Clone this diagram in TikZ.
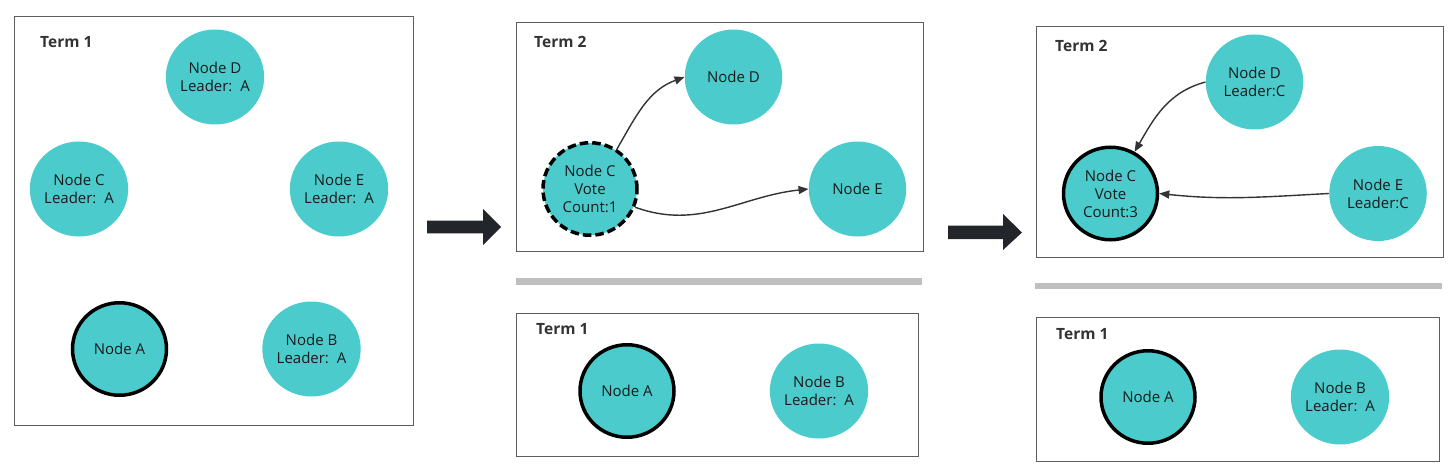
\documentclass[tikz,border=0pt]{standalone}
\usepackage{fontspec}
\setmainfont{Open Sans}
\usetikzlibrary{arrows.meta,shapes.geometric}
\definecolor{nodefill}{HTML}{4CCBCC}
\definecolor{panelgray}{HTML}{5A5E62}
\definecolor{termgray}{HTML}{333333}
\definecolor{textdark}{HTML}{1A1A1A}
\definecolor{linkgray}{HTML}{333333}
\definecolor{sepgray}{HTML}{BFBFBF}
\definecolor{arrowdark}{HTML}{22252A}
\begin{document}
\begin{tikzpicture}[x=1pt,y=1pt,
  panel/.style={draw=panelgray,line width=1pt},
  term/.style={font=\fontsize{15.5}{18}\selectfont\bfseries, text=termgray, anchor=west, inner sep=0pt},
  nd/.style={ellipse, fill=nodefill, minimum width=97.5pt, minimum height=95pt, inner sep=0pt, align=center, font=\fontsize{15}{18}\selectfont, text=textdark},
  lead/.style={nd, draw=black, line width=3.5pt, minimum width=94pt, minimum height=92.5pt},
  cand/.style={lead, dash pattern=on 8.5pt off 4pt},
  link/.style={draw=linkgray, line width=1.4pt, -{Triangle[length=10pt,width=8pt]}},
  sepline/.style={draw=sepgray, line width=6.5pt},
  bigarrow/.style={fill=arrowdark}]
\useasboundingbox (0,0) rectangle (1453,-476);

% ---------- Panel 1 ----------
\draw[panel] (14,-17) rectangle (413,-425);
\node[term] (t1) at (40,-42) {Term 1};
\node[nd] (p1D) at (215,-77) {Node D\\Leader:\ \ A};
\node[nd] (p1C) at (79,-189) {Node C\\Leader:\ \ A};
\node[nd] (p1E) at (339,-189) {Node E\\Leader:\ \ A};
\node[lead] (p1A) at (119.5,-349) {Node A};
\node[nd] (p1B) at (311.5,-349) {Node B\\Leader:\ \ A};

% ---------- big arrows ----------
\fill[bigarrow] (427,-220.7) -- (483,-220.7) -- (483,-209) -- (501,-227) -- (483,-245) -- (483,-233.3) -- (427,-233.3) -- cycle;
\fill[bigarrow] (948,-225.7) -- (1003,-225.7) -- (1003,-214) -- (1022,-232.5) -- (1003,-250) -- (1003,-239) -- (948,-239) -- cycle;

% ---------- Panel 2 top ----------
\draw[panel] (516,-23) rectangle (923,-251);
\node[term] (t2) at (534,-42) {Term 2};
\node[nd] (p2D) at (733.5,-77) {Node D};
\node[cand] (p2C) at (590,-189) {Node C\\Vote\\Count:1};
\node[nd] (p2E) at (857.5,-189) {Node E};
\draw[link] (p2C.56) to[out=60,in=200] (p2D.west);
\draw[link] (p2C.-22) to[out=-20,in=186] (p2E.west);

\draw[sepline] (516,-281.5) -- (922,-281.5);

% ---------- Panel 2 bottom ----------
\draw[panel] (516,-313) rectangle (918,-456);
\node[term] (t3) at (536,-329) {Term 1};
\node[lead] (p2bA) at (627,-391) {Node A};
\node[nd] (p2bB) at (819,-391) {Node B\\Leader:\ \ A};

% ---------- Panel 3 top ----------
\draw[panel] (1036,-27) rectangle (1443,-257);
\node[term] (t4) at (1055,-46) {Term 2};
\node[nd] (p3D) at (1254.5,-82) {Node D\\Leader:C};
\node[lead] (p3C) at (1110.5,-193.5) {Node C\\Vote\\Count:3};
\node[nd] (p3E) at (1378,-193.5) {Node E\\Leader:C};
\draw[link] (p3D.west) to[out=195,in=60] (p3C.60);
\draw[link] (p3E.west) to[out=183,in=-6] (p3C.east);

\draw[sepline] (1035,-286) -- (1442,-286);

% ---------- Panel 3 bottom ----------
\draw[panel] (1036,-317) rectangle (1439,-461);
\node[term] (t5) at (1056,-334) {Term 1};
\node[lead] (p3bA) at (1148,-397) {Node A};
\node[nd] (p3bB) at (1340,-397) {Node B\\Leader:\ \ A};
\end{tikzpicture}
\end{document}
